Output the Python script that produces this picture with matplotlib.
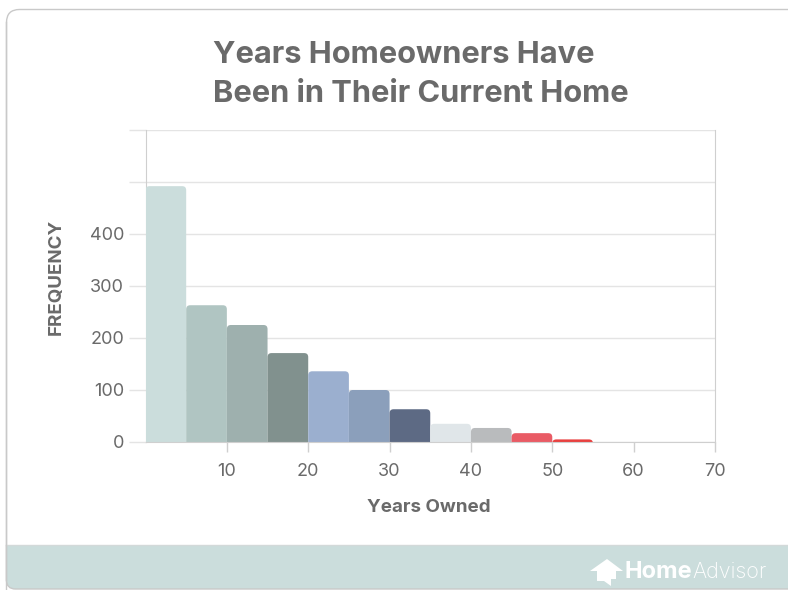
import matplotlib
matplotlib.use('Agg')
import matplotlib.pyplot as plt
from matplotlib.patches import FancyBboxPatch, Polygon, Rectangle

plt.rcParams['font.family'] = ['Inter', 'DejaVu Sans']

# data
bin_left = [0, 5, 10, 15, 20, 25, 30, 35, 40, 45, 50]
bin_width = 5
frequency = [492, 263, 225, 171, 136, 100, 63, 35, 27, 17, 5]
bar_colors = ['#cbdddc', '#b0c5c2', '#9eb0ae', '#81918e', '#9bafcf', '#8b9fbb',
              '#5d6a84', '#e0e6e9', '#b9bbbd', '#e95b65', '#e8403f']
x_ticks = [10, 20, 30, 40, 50, 60, 70]
y_ticks = [0, 100, 200, 300, 400]
y_grid = [0, 100, 200, 300, 400, 500, 600]
title_lines = ['Years Homeowners Have', 'Been in Their Current Home']

W, H = 788, 590
TEXT = '#6a6a6a'
GRID = '#e4e4e4'
AXIS = '#cfcfcf'
BAND = '#cbdddc'

fig = plt.figure(figsize=(W / 100, H / 100), dpi=100, facecolor='white')

# background card, in pixel coordinates
bg = fig.add_axes([0, 0, 1, 1])
bg.set_xlim(0, W)
bg.set_ylim(H, 0)
bg.axis('off')
bg.add_patch(FancyBboxPatch((6.5, 9.5), 900, 800, boxstyle='round,pad=0,rounding_size=13',
                            fc='white', ec='#c9c9c9', lw=1))
band = FancyBboxPatch((6.5, 500), 900, 89, boxstyle='round,pad=0,rounding_size=9',
                      fc=BAND, ec='#c9c9c9', lw=1)
bg.add_patch(band)
band.set_clip_path(Rectangle((0, 545), W, 45, transform=bg.transData))
bg.plot([6.5, W], [545, 545], color='#d3d9d9', lw=1)
bg.plot([6.5, 6.5], [22, 580], color='#c9c9c9', lw=1)

bg.text(213, 55, title_lines[0], fontsize=22.2, fontweight='bold', color=TEXT, va='center')
bg.text(213, 94, title_lines[1], fontsize=22.2, fontweight='bold', color=TEXT, va='center')

# logo
bg.add_patch(Polygon([(590, 571), (607, 559), (623, 571), (616, 571), (616, 579), (611, 579),
                      (611, 586), (604, 581), (597, 581), (597, 571)], fc='white', ec='none'))
bg.text(625, 572, 'Home', fontsize=17, fontweight='bold', color='white', va='center')
bg.text(692, 572, 'Advisor', fontsize=15.5, fontweight='light', color='white', va='center')

# chart area: x 0..70 -> 145.5..715 px, y 0..600 -> 442..130 px
ax = fig.add_axes([145.5 / W, 1 - 442 / H, (715 - 145.5) / W, (442 - 130) / H])
ax.patch.set_alpha(0)
ax.set_xlim(0, 70)
ax.set_ylim(0, 600)

x_per_px = 70 / (715 - 145.5)
y_per_px = 600 / (442 - 130)
radius = 4 * x_per_px
aspect = y_per_px / x_per_px
for left, val, col in zip(bin_left, frequency, bar_colors):
    # box starts below the axis so only the top corners show rounded
    below = 10
    ax.add_patch(FancyBboxPatch((left, -below), bin_width, val + below,
                                boxstyle=f'round,pad=0,rounding_size={radius}',
                                mutation_aspect=aspect, fc=col, ec='none', zorder=3))

ax.set_yticks(y_grid)
ax.set_yticklabels([str(v) if v in y_ticks else '' for v in y_grid])
ax.set_xticks(x_ticks)
ax.grid(axis='y', color=GRID, lw=1)
ax.set_axisbelow(True)
ax.spines['top'].set_visible(False)
ax.spines['left'].set_color(AXIS)
ax.spines['right'].set_color(AXIS)
ax.spines['bottom'].set_color(AXIS)
ax.spines['bottom'].set_zorder(4)
ax.tick_params(axis='x', length=7, color=AXIS, labelcolor=TEXT, labelsize=13, pad=8, width=1)
ax.tick_params(axis='y', length=12.5, color=GRID, labelcolor=TEXT, labelsize=13, pad=3, width=1)

bg.text(429, 507, 'Years Owned', fontsize=13.5, fontweight='bold', color=TEXT, ha='center', va='center')
bg.text(56, 277, 'FREQUENCY', fontsize=13.5, fontweight='bold', color=TEXT, ha='center', va='center', rotation=90)

fig.savefig('out.png', dpi=100)
